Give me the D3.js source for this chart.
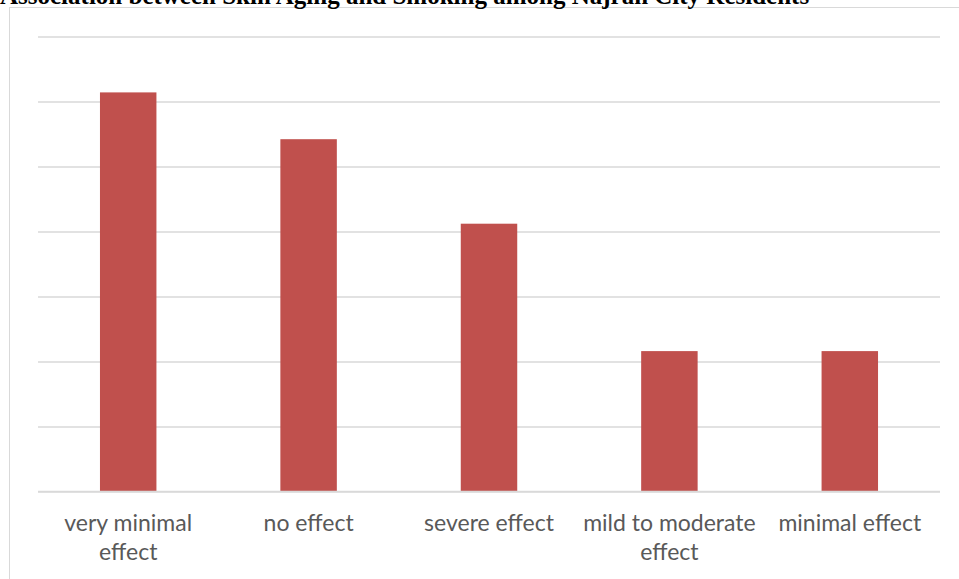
<!DOCTYPE html>
<html>
<head>
<meta charset="utf-8">
<script src="https://cdn.jsdelivr.net/npm/d3@7"></script>
<style>
  html, body { margin: 0; padding: 0; background: #fff; overflow: hidden; }
  svg { display: block; }
</style>
</head>
<body>
<svg id="chart" width="959" height="579"></svg>
<script>
// Share of respondents (%) by perceived effect of smoking on skin aging
const categories = ["very minimal effect", "no effect", "severe effect", "mild to moderate effect", "minimal effect"];
const percentages = [30.7, 27.1, 20.6, 10.8, 10.8];
const gridTicks = [0, 5, 10, 15, 20, 25, 30, 35];
const title = "Association between Skin Aging and Smoking among Najran City Residents";

const svg = d3.select("#chart");
const W = 959, H = 579;
const margin = { left: 38, right: 19, top: 36.5, bottom: 87.5 };

// chart area frame
svg.append("rect")
  .attr("x", 9.5).attr("y", 7.5)
  .attr("width", W + 10).attr("height", H + 10)
  .attr("fill", "#fff")
  .attr("stroke", "#d9d9d9").attr("stroke-width", 1);

// title, partly above the top edge
svg.append("text")
  .attr("x", 0).attr("y", 4)
  .attr("font-family", "'Liberation Serif', 'Times New Roman', serif")
  .attr("font-weight", "bold")
  .attr("font-size", 25)
  .attr("fill", "#000")
  .text(title);

const x = d3.scaleBand()
  .domain(categories)
  .range([margin.left, W - margin.right])
  .paddingInner(0.687)
  .paddingOuter(0.3435);

const y = d3.scaleLinear()
  .domain([0, 35])
  .range([H - margin.bottom, margin.top]);

// horizontal gridlines
const yGrid = d3.axisLeft(y)
  .tickValues(gridTicks)
  .tickSize(-(W - margin.right - margin.left))
  .tickFormat("");
svg.append("g")
  .attr("transform", `translate(${margin.left},0)`)
  .call(yGrid)
  .call(g => g.select(".domain").remove())
  .call(g => g.selectAll(".tick line")
    .attr("stroke", "#d9d9d9").attr("stroke-width", 1.5));

// bars
svg.append("g").selectAll("rect")
  .data(categories)
  .join("rect")
  .attr("x", d => x(d))
  .attr("width", x.bandwidth())
  .attr("y", (d, i) => y(percentages[i]))
  .attr("height", (d, i) => y(0) - y(percentages[i]))
  .attr("fill", "#c0504d");

// baseline drawn over bars
svg.append("line")
  .attr("x1", margin.left).attr("x2", W - margin.right)
  .attr("y1", y(0)).attr("y2", y(0))
  .attr("stroke", "#d9d9d9").attr("stroke-width", 1.5);

// category axis labels with word wrapping
const xAxis = d3.axisBottom(x).tickSize(0).tickPadding(0);
const gx = svg.append("g")
  .attr("transform", `translate(0,${y(0)})`)
  .call(xAxis)
  .call(g => g.select(".domain").remove());

gx.selectAll(".tick text")
  .attr("font-family", "Lato, 'Open Sans', sans-serif")
  .attr("font-size", 23)
  .attr("fill", "#595959")
  .attr("dy", null)
  .attr("y", 0)
  .each(function(d) {
    const t = d3.select(this);
    const words = d.split(" ");
    t.text(null);
    const maxW = 184;
    let line = [];
    let lineNo = 0;
    let tspan = t.append("tspan").attr("x", 0).attr("y", 39.5);
    for (const w of words) {
      line.push(w);
      tspan.text(line.join(" "));
      if (tspan.node().getComputedTextLength() > maxW && line.length > 1) {
        line.pop();
        tspan.text(line.join(" "));
        line = [w];
        lineNo++;
        tspan = t.append("tspan").attr("x", 0).attr("y", 39.5 + lineNo * 28.5).text(w);
      }
    }
  });
</script>
</body>
</html>
